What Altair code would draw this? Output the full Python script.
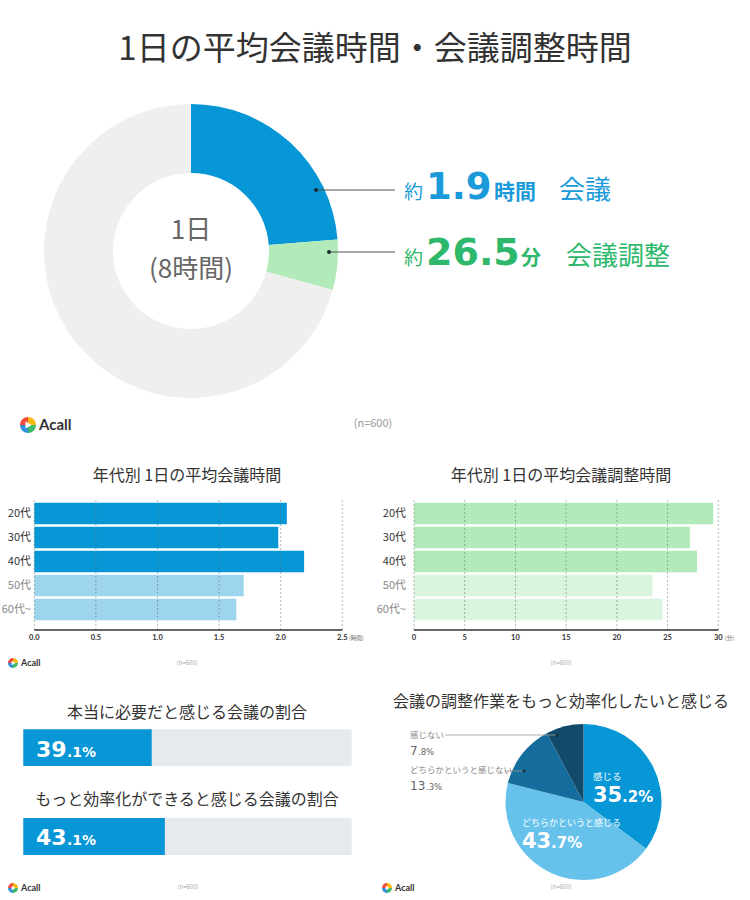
import altair as alt
import pandas as pd

JP = "Noto Sans CJK JP"
NUM = "Lato"
WIDE = "DejaVu Sans"

# ---------------- data ----------------
day_hours = 8
meeting_hours = 1.9
adjust_minutes = 26.5
donut_parts = ["会議", "会議調整", "その他"]

ages = ["20代", "30代", "40代", "50代", "60代~"]
age_highlight = [True, True, True, False, False]
meeting_hours_by_age = [2.05, 1.98, 2.19, 1.70, 1.64]
adjust_minutes_by_age = [29.5, 27.2, 27.9, 23.5, 24.5]
hour_ticks = [0.0, 0.5, 1.0, 1.5, 2.0, 2.5]
minute_ticks = [0, 5, 10, 15, 20, 25, 30]

share_questions = ["本当に必要だと感じる会議の割合", "もっと効率化ができると感じる会議の割合"]
share_values = [39.1, 43.1]

feel_labels = ["感じる", "どちらかというと感じる", "どちらかというと感じない", "感じない"]
feel_values = [35.2, 43.7, 13.3, 7.8]

sample_size = 600
logo_segments = ["s1", "s2", "s3", "s4"]

# ---------------- styles ----------------
BLUE = "#0796D6"
BLUE_LIGHT = "#9DD5EF"
GREEN_LIGHT = "#B3EAB9"
GREEN_PALE = "#DAF5DD"
BLUE_TEXT = "#1A9AD8"
GREEN_TEXT = "#2DB86B"
RING_GRAY = "#EFEFEF"
TRACK = "#E7EAED"
PIE_COLORS = ["#0796D6", "#66C2EB", "#156D9D", "#114A6B"]
LOGO_COLORS = ["#F8B912", "#3DBA6A", "#2F8FDB", "#EE4B3E"]


def one():
    return pd.DataFrame({"k": [0]})


def text_layer(s, x, y, size, color="#333333", weight="normal", font=JP,
               align="left", baseline="middle"):
    return alt.Chart(pd.DataFrame({"t": [s]})).mark_text(
        align=align, baseline=baseline, font=font, fontSize=size,
        fontWeight=weight, color=color
    ).encode(text="t:N", x=alt.value(x), y=alt.value(y))


def split_num(v, suffix=""):
    s = f"{v}"
    if "." in s:
        a, b = s.split(".")
        return a, "." + b + suffix
    return s, suffix


def logo(x, y, r, size):
    seg = pd.DataFrame({"seg": logo_segments, "w": [1, 1, 1, 1]})
    ring = alt.Chart(seg).mark_arc(outerRadius=r).encode(
        theta=alt.Theta("w:Q", stack=True),
        order=alt.Order("seg:N"),
        color=alt.Color("seg:N", scale=alt.Scale(domain=logo_segments, range=LOGO_COLORS), legend=None),
        x=alt.value(x), y=alt.value(y))
    tri = alt.Chart(one()).mark_point(shape="triangle-right", filled=True, color="white",
                                      opacity=1, size=r * r * 0.8).encode(
        x=alt.value(x + 0.6), y=alt.value(y))
    word = text_layer("Acall", x + r + 3, y, size, "#333333", "bold", NUM)
    return [ring, tri, word]


def rule(x1, x2, y, color="#555555", w=1.0):
    return alt.Chart(one()).mark_rule(color=color, strokeWidth=w).encode(
        x=alt.value(x1), x2=alt.value(x2), y=alt.value(y))


def dot(x, y, size=16, color="#1D2B36"):
    return alt.Chart(one()).mark_circle(size=size, color=color, opacity=1).encode(
        x=alt.value(x), y=alt.value(y))


# ---------------- row 1: donut ----------------
adjust_hours = adjust_minutes / 60
donut_df = pd.DataFrame({
    "part": donut_parts,
    "hours": [meeting_hours, adjust_hours, day_hours - meeting_hours - adjust_hours],
    "i": [0, 1, 2],
})
donut = alt.Chart(donut_df).mark_arc(outerRadius=147, innerRadius=78).encode(
    theta=alt.Theta("hours:Q", stack=True),
    order=alt.Order("i:Q"),
    color=alt.Color("part:N", scale=alt.Scale(domain=donut_parts, range=[BLUE, GREEN_LIGHT, RING_GRAY]), legend=None),
    x=alt.value(191), y=alt.value(251))

row1_layers = [
    text_layer("1日の平均会議時間・会議調整時間", 375, 50, 33, "#333333", align="center"),
    donut,
    text_layer("1日", 191, 231, 26, "#666666", align="center"),
    text_layer(f"({day_hours}時間)", 191, 270, 26, "#666666", align="center"),
    rule(316, 395, 190), dot(316, 190),
    rule(329, 395, 252), dot(329, 252),
    text_layer("約", 404, 199, 19, BLUE_TEXT, baseline="alphabetic"),
    text_layer(f"{meeting_hours}", 426, 199, 37, BLUE_TEXT, "bold", WIDE, baseline="alphabetic"),
    text_layer("時間", 494, 199, 21, BLUE_TEXT, "bold", baseline="alphabetic"),
    text_layer("会議", 559, 199, 26, BLUE_TEXT, baseline="alphabetic"),
    text_layer("約", 404, 265, 19, GREEN_TEXT, baseline="alphabetic"),
    text_layer(f"{adjust_minutes}", 426, 265, 38, GREEN_TEXT, "bold", WIDE, baseline="alphabetic"),
    text_layer("分", 521, 265, 20, GREEN_TEXT, "bold", baseline="alphabetic"),
    text_layer("会議調整", 566, 265, 26, GREEN_TEXT, baseline="alphabetic"),
    *logo(28, 425, 8, 15),
    text_layer(f"(n={sample_size})", 373, 424, 11, "#999999", align="center"),
]
row1 = alt.layer(*row1_layers).resolve_scale(theta="independent", color="independent").properties(width=750, height=445)


# ---------------- row 2: bars by age ----------------
def age_panel(title, values, ticks, tick_fmt, unit, x_lo, x_hi, label_right, unit_x,
              colors, title_x, with_logo):
    df = pd.DataFrame({"age": ages, "v": values, "hi": age_highlight})
    xs = alt.Scale(domain=[ticks[0], ticks[-1]], range=[x_lo, x_hi], nice=False, zero=False)
    ys = alt.Scale(domain=ages, range=[56.5, 176.5], paddingInner=0.1, paddingOuter=0.05)
    bars = alt.Chart(df).mark_bar().encode(
        x=alt.X("v:Q", scale=xs, axis=None),
        y=alt.Y("age:N", scale=ys, axis=None, sort=ages),
        color=alt.condition(alt.datum.hi, alt.value(colors[0]), alt.value(colors[1])))
    tdf = pd.DataFrame({"t": ticks})
    grid = alt.Chart(tdf).mark_rule(color="#666666", strokeDash=[2, 2], strokeWidth=0.8, opacity=0.6).encode(
        x=alt.X("t:Q", scale=xs, axis=None), y=alt.value(55), y2=alt.value(185))
    base = alt.Chart(pd.DataFrame({"a": [ticks[0]], "b": [ticks[-1]]})).mark_rule(
        color="#333333", strokeWidth=1.5).encode(
        x=alt.X("a:Q", scale=xs, axis=None), x2="b:Q", y=alt.value(185))
    tlabels = alt.Chart(tdf).mark_text(font=NUM, fontSize=7.5, fontWeight="bold", color="#333333",
                                       baseline="middle").encode(
        x=alt.X("t:Q", scale=xs, axis=None), y=alt.value(193),
        text=alt.Text("t:Q", format=tick_fmt))
    ylabels = alt.Chart(df).mark_text(font=JP, fontSize=11, align="right", baseline="middle").encode(
        x=alt.value(label_right),
        y=alt.Y("age:N", scale=ys, axis=None, sort=ages),
        text="age:N",
        color=alt.condition(alt.datum.hi, alt.value("#333333"), alt.value("#888888")))
    layers = [
        text_layer(title, title_x, 31, 16, "#333333", align="center"),
        bars, grid, base, tlabels, ylabels,
        text_layer(unit, unit_x, 193, 5.5, "#666666"),
        text_layer(f"(n={sample_size})", title_x, 218, 6, "#AAAAAA", align="center"),
    ]
    if with_logo:
        layers += logo(13, 218, 5, 9)
    return alt.layer(*layers).resolve_scale(theta="independent", color="independent").properties(
        width=375, height=230)


panel_a = age_panel("年代別 1日の平均会議時間", meeting_hours_by_age, hour_ticks, ".1f", "(時間)",
                    34.3, 342.3, 31, 349, [BLUE, BLUE_LIGHT], 187, True)
panel_b = age_panel("年代別 1日の平均会議調整時間", adjust_minutes_by_age, minute_ticks, "d", "(分)",
                    39, 343.3, 31, 350, [GREEN_LIGHT, GREEN_PALE], 186, False)
row2 = alt.hconcat(panel_a, panel_b, spacing=0)

# ---------------- row 3 left: share bars ----------------
xs_share = alt.Scale(domain=[0, 100], range=[23.3, 351.7], nice=False)
share_layers = []
title_y = [38, 125]
bar_y = [(54.3, 91), (143, 180)]
num_base = [82, 170]
for q, v, ty, (y1, y2), nb in zip(share_questions, share_values, title_y, bar_y, num_base):
    share_layers.append(text_layer(q, 187, ty, 16, "#333333", align="center"))
    track = alt.Chart(pd.DataFrame({"lo": [0], "hi": [100]})).mark_rect(color=TRACK).encode(
        x=alt.X("lo:Q", scale=xs_share, axis=None), x2="hi:Q", y=alt.value(y1), y2=alt.value(y2))
    fill = alt.Chart(pd.DataFrame({"lo": [0], "v": [v]})).mark_rect(color=BLUE).encode(
        x=alt.X("lo:Q", scale=xs_share, axis=None), x2="v:Q", y=alt.value(y1), y2=alt.value(y2))
    a, b = split_num(v, "%")
    share_layers += [
        track, fill,
        text_layer(a, 36, nb, 22, "white", "bold", WIDE, baseline="alphabetic"),
        text_layer(b, 67, nb, 14, "white", "bold", WIDE, baseline="alphabetic"),
    ]
share_layers += logo(13, 213, 5, 9)
share_layers.append(text_layer(f"(n={sample_size})", 188, 212, 6, "#AAAAAA", align="center"))
panel_c = alt.layer(*share_layers).resolve_scale(theta="independent", color="independent").properties(
    width=375, height=225)

# ---------------- row 3 right: pie ----------------
pie_df = pd.DataFrame({"label": feel_labels, "v": feel_values, "i": range(len(feel_labels))})
pie = alt.Chart(pie_df).mark_arc(outerRadius=78).encode(
    theta=alt.Theta("v:Q", stack=True),
    order=alt.Order("i:Q"),
    color=alt.Color("label:N", scale=alt.Scale(domain=feel_labels, range=PIE_COLORS), legend=None),
    x=alt.value(208.5), y=alt.value(127))

p0a, p0b = split_num(feel_values[0], "%")
p1a, p1b = split_num(feel_values[1], "%")
p2a, p2b = split_num(feel_values[2], "%")
p3a, p3b = split_num(feel_values[3], "%")
pie_layers = [
    text_layer("会議の調整作業をもっと効率化したいと感じる", 186, 27, 16, "#333333", align="center"),
    pie,
    text_layer(feel_labels[0], 218, 102, 9.5, "white"),
    text_layer(p0a, 218, 127, 21, "white", "bold", WIDE, baseline="alphabetic"),
    text_layer(p0b, 247, 127, 15, "white", "bold", WIDE, baseline="alphabetic"),
    text_layer(feel_labels[1], 147, 148, 9, "white"),
    text_layer(p1a, 147, 173, 21, "white", "bold", WIDE, baseline="alphabetic"),
    text_layer(p1b, 176, 173, 15, "white", "bold", WIDE, baseline="alphabetic"),
    rule(70, 182, 60, "#999999", 0.8), dot(182, 60, 10),
    text_layer(feel_labels[3], 35, 60, 8.5, "#888888"),
    text_layer(p3a, 35, 80, 12, "#666666", font=WIDE, baseline="alphabetic"),
    text_layer(p3b, 43, 80, 8.5, "#666666", font=WIDE, baseline="alphabetic"),
    rule(130, 149, 96, "#999999", 0.8), dot(149, 96, 10),
    text_layer(feel_labels[2], 35, 95, 8.5, "#888888"),
    text_layer(p2a, 35, 115, 12, "#666666", font=WIDE, baseline="alphabetic"),
    text_layer(p2b, 51, 115, 8.5, "#666666", font=WIDE, baseline="alphabetic"),
    *logo(12, 213, 5, 9),
    text_layer(f"(n={sample_size})", 186, 212, 6, "#AAAAAA", align="center"),
]
panel_d = alt.layer(*pie_layers).resolve_scale(theta="independent", color="independent").properties(
    width=375, height=225)
row3 = alt.hconcat(panel_c, panel_d, spacing=0)

chart = alt.vconcat(row1, row2, row3, spacing=0).properties(
    padding=0, background="white"
).configure_view(stroke=None)

chart.save("out.html", embed_options={"renderer": "svg", "actions": False})
